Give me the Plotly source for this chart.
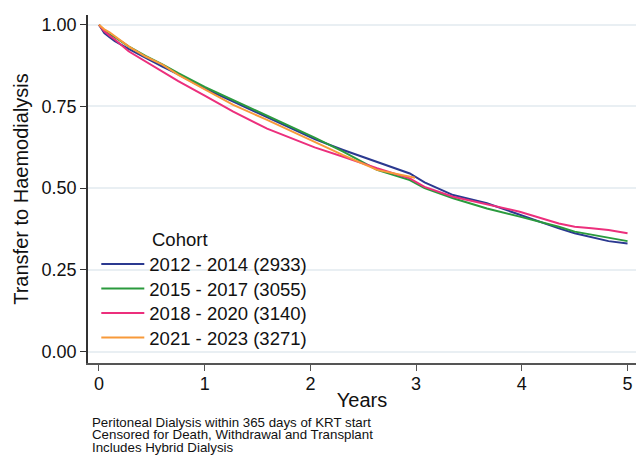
import plotly.graph_objects as go

# Kaplan-Meier estimates of remaining on PD (time to transfer to haemodialysis)
cohort_labels = [
    "2012 - 2014 (2933)",
    "2015 - 2017 (3055)",
    "2018 - 2020 (3140)",
    "2021 - 2023 (3271)",
]
colors = ["#2b3990", "#2a9a3d", "#ec2f7c", "#f89a3a"]

years_full = [0, 0.05, 0.1, 0.15, 0.28, 0.44, 0.6, 0.75, 1.0, 1.27, 1.59, 1.9,
              2.04, 2.31, 2.63, 2.94, 3.08, 3.35, 3.67, 3.98, 4.35, 4.5, 4.66,
              4.82, 5.0]
years_recent = [0, 0.05, 0.1, 0.15, 0.28, 0.44, 0.6, 0.75, 1.0, 1.27, 1.59,
                1.9, 2.04, 2.31, 2.63, 2.94, 2.99]

surv_2012 = [1.0, 0.975, 0.962, 0.950, 0.926, 0.898, 0.872, 0.848, 0.805,
             0.765, 0.718, 0.672, 0.650, 0.617, 0.581, 0.545, 0.518, 0.479,
             0.454, 0.418, 0.377, 0.362, 0.351, 0.338, 0.331]
surv_2015 = [1.0, 0.982, 0.970, 0.962, 0.934, 0.905, 0.879, 0.852, 0.810,
             0.770, 0.724, 0.678, 0.655, 0.612, 0.556, 0.525, 0.500, 0.469,
             0.438, 0.413, 0.382, 0.367, 0.357, 0.347, 0.338]
surv_2018 = [1.0, 0.980, 0.967, 0.955, 0.919, 0.888, 0.858, 0.828, 0.783,
             0.734, 0.682, 0.642, 0.625, 0.596, 0.561, 0.530, 0.504, 0.474,
             0.450, 0.428, 0.392, 0.382, 0.377, 0.372, 0.362]
surv_2021 = [1.0, 0.986, 0.977, 0.965, 0.934, 0.903, 0.878, 0.847, 0.802,
             0.755, 0.709, 0.663, 0.640, 0.601, 0.556, 0.535, 0.532]

series = [
    (years_full, surv_2012),
    (years_full, surv_2015),
    (years_full, surv_2018),
    (years_recent, surv_2021),
]

y_ticks = [0.0, 0.25, 0.5, 0.75, 1.0]
y_tick_text = ["0.00", "0.25", "0.50", "0.75", "1.00"]
x_ticks = [0, 1, 2, 3, 4, 5]

footnotes = [
    "Peritoneal Dialysis within 365 days of KRT start",
    "Censored for Death, Withdrawal and Transplant",
    "Includes Hybrid Dialysis",
]

FONT = "Liberation Sans, Arial, sans-serif"

# plot area geometry in pixels
W, H = 636, 456
L, R, T, B = 88, 0, 15, 93
PW, PH = W - L - R, H - T - B


def px_x(px):
    return (px - L) / PW


def px_y(py):
    return (H - B - py) / PH


fig = go.Figure()
legend_ids = ["legend", "legend2", "legend3", "legend4"]
for (xs, ys), name, col, lg in zip(series, cohort_labels, colors, legend_ids):
    fig.add_trace(go.Scatter(
        x=xs, y=ys, mode="lines", name=name, legend=lg,
        line=dict(color=col, width=2),
    ))

# one legend per cohort so the rows sit at a fixed pitch
legend_rows_py = [264.5, 289, 313.5, 338]
for lg, py in zip(legend_ids, legend_rows_py):
    fig.update_layout({lg: dict(
        x=px_x(96.3), y=px_y(py), xanchor="left", yanchor="middle",
        bgcolor="rgba(0,0,0,0)", font=dict(size=18.5, family=FONT),
        itemwidth=43,
    )})

fig.update_layout(
    width=W, height=H,
    margin=dict(l=L, r=R, t=T, b=B),
    paper_bgcolor="white", plot_bgcolor="white",
    font=dict(family=FONT, color="#111111"),
    showlegend=True,
    xaxis=dict(
        range=[-0.104, 5.08], tickvals=x_ticks,
        showgrid=False, zeroline=False,
        showline=True, linecolor="#555555", linewidth=2,
        ticks="outside", ticklen=6, tickcolor="#555555",
        tickfont=dict(size=18), ticklabelstandoff=-3,
        title=dict(text="Years", font=dict(size=20), standoff=0),
    ),
    yaxis=dict(
        range=[-0.035, 1.030], tickvals=y_ticks, ticktext=y_tick_text,
        showgrid=True, gridcolor="#e9eff3", gridwidth=1.5,
        zeroline=False,
        showline=True, linecolor="#333333", linewidth=1.5,
        ticks="outside", ticklen=6, tickcolor="#333333",
        tickfont=dict(size=18),
        title=dict(text="Transfer to Haemodialysis", font=dict(size=20), standoff=8),
    ),
)

fig.add_annotation(
    text="Cohort", xref="paper", yref="paper",
    x=px_x(150), y=px_y(239),
    xanchor="left", yanchor="middle", showarrow=False,
    font=dict(size=18.5, family=FONT),
)

for i, line in enumerate(footnotes):
    fig.add_annotation(
        text=line, xref="paper", yref="paper",
        x=px_x(90), y=px_y(422 + 12.8 * i),
        xanchor="left", yanchor="middle", showarrow=False,
        font=dict(size=13.3, family=FONT),
    )

fig.write_html("out.html")
